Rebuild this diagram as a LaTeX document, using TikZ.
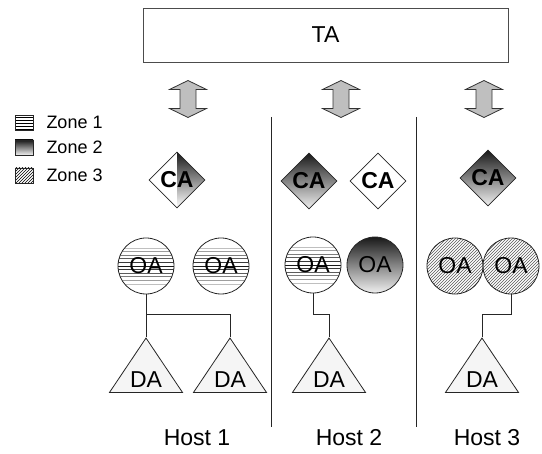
\documentclass[tikz,border=0pt]{standalone}
\usepackage{fontspec}
\setmainfont{Liberation Sans}
\usetikzlibrary{positioning, shapes.geometric, patterns}
\tikzset{
  tabox/.style={draw=black!70, line width=0.9pt, minimum width=365pt,
                minimum height=54pt, font=\fontsize{23}{26}\selectfont},
  pics/dblarr/.style={code={
      \draw[draw=black!80, fill=black!25, line width=0.8pt]
        (0,-18.5) -- (18.5,-9.5) -- (8,-9.5) -- (8,9.5) -- (18.5,9.5) -- (0,18.5)
        -- (-18.5,9.5) -- (-8,9.5) -- (-8,-9.5) -- (-18.5,-9.5) -- cycle;}},
  ca/.style={diamond, aspect=1, draw=black!85, line width=0.8pt, minimum size=56pt,
             inner sep=0pt, font=\fontsize{23}{26}\selectfont\bfseries},
  oa/.style={circle, draw=black!85, line width=0.8pt, minimum size=56pt,
             inner sep=0pt, font=\fontsize{23}{26}\selectfont},
  da/.style={isosceles triangle, shape border rotate=90, isosceles triangle stretches,
             draw=black!85, fill=black!4, line width=0.8pt, minimum width=73pt,
             minimum height=54pt, inner sep=0pt, anchor=apex,
             font=\fontsize{23}{26}\selectfont},
  wire/.style={draw=black!85, line width=0.8pt},
  host/.style={font=\fontsize{23}{26}\selectfont},
  % zone fills
  zonea/.style={path picture={
      \foreach \k in {-5,...,5}{
        \pgfmathsetmacro\tone{int(90-13*abs(\k))}
        \draw[black!\tone, line width=0.9pt]
          ([yshift=\k*3.6pt]path picture bounding box.west) --
          ([yshift=\k*3.6pt]path picture bounding box.east);
      }}},
  zoneb/.style={top color=black!90, bottom color=black!6},
  zonec/.style={pattern=north east lines, pattern color=black!65},
  halfb/.style={path picture={
      \shade[top color=black!90, bottom color=white]
        (path picture bounding box.north) rectangle (path picture bounding box.south east);}},
  legsq/.style={draw=black!85, line width=0.6pt, minimum width=18pt,
                minimum height=15pt, inner sep=0pt},
  legtxt/.style={right=13pt of #1, inner sep=0pt, font=\fontsize{18}{21}\selectfont},
}
\begin{document}
\begin{tikzpicture}[x=1pt, y=-1pt]
  \useasboundingbox (0,0) rectangle (542,454);

  \node[tabox] (ta) at (325.5,35) {TA};
  \pic (ar1) at (188,99) {dblarr};
  \pic (ar2) at (341,99) {dblarr};
  \pic (ar3) at (484,99) {dblarr};

  % host separators
  \draw[wire] (271,117) -- (271,427);
  \draw[wire] (416,117) -- (416,427);

  % legend
  \node[legsq, pattern=horizontal lines] (z1) at (24,122.5) {};
  \node[legsq, zoneb] (z2) at (24,147.5) {};
  \node[legsq, pattern=north east lines] (z3) at (24,175.5) {};
  \node[legtxt=z1] (t1) {Zone 1};
  \node[legtxt=z2] (t2) {Zone 2};
  \node[legtxt=z3] (t3) {Zone 3};

  % CA layer
  \node[ca, halfb] (ca1) at (177,180) {CA};
  \node[ca, zoneb] (ca2) at (309,181) {CA};
  \node[ca, fill=white] (ca3) at (378,181) {CA};
  \node[ca, zoneb] (ca4) at (488,178) {CA};

  % OA layer
  \node[oa, zonea] (oa1) at (146,266) {OA};
  \node[oa, zonea] (oa2) at (221,266) {OA};
  \node[oa, zonea] (oa3) at (313,265) {OA};
  \node[oa, zoneb] (oa4) at (375,265) {OA};
  \node[oa, zonec] (oa5) at (455,266) {OA};
  \node[oa, zonec] (oa6) at (511,266) {OA};

  % DA layer
  \node[da] (da1) at (146,337) {DA};
  \node[da] (da2) at (230,337) {DA};
  \node[da] (da3) at (329,337) {DA};
  \node[da] (da4) at (482,337) {DA};

  \draw[wire] (oa1.south) -- ++(0,20) -| (da2.apex);
  \draw[wire] (oa1.south) -- (da1.apex);
  \draw[wire] (oa3.south) -- ++(0,21) -| (da3.apex);
  \draw[wire] (oa6.south) -- ++(0,20) -| (da4.apex);

  \node[host] (h1) at (197,438) {Host 1};
  \node[host] (h2) at (349,438) {Host 2};
  \node[host] (h3) at (487,438) {Host 3};
\end{tikzpicture}
\end{document}
